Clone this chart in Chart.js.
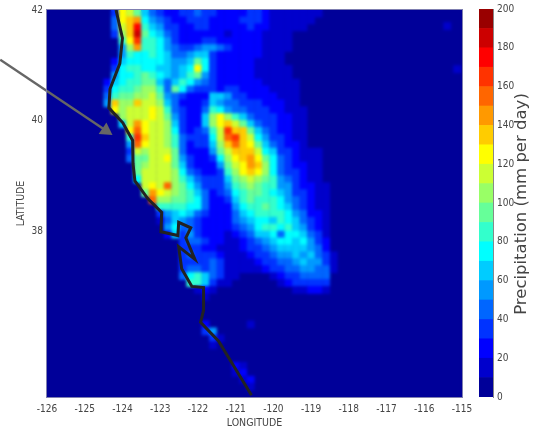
<!DOCTYPE html>
<html><head><meta charset="utf-8">
<style>html,body{margin:0;padding:0;background:#fff}#wrap{position:relative;width:535px;height:426px}canvas{position:absolute;top:0}#map{left:0}#bar{left:470px}</style>
<script src="https://cdn.jsdelivr.net/npm/chart.js@4"></script></head><body>
<div id="wrap"><canvas id="map" width="535" height="426"></canvas><canvas id="bar" width="65" height="426"></canvas></div>
<script>
const latNorth=41.9375, latStep=0.125, lonWest=-124.6, lonStep=0.2;
// precipitation in tens of mm per day, one list per latitude row (north to south), west to east
const precipTens=[
[0,0,3,12,11,9,6,4,3,2,2,3,3,4,3,3,2,2,2,2,3,3,2,1,1,1,1,1,1,1],
[0,0,4,12,13,14,7,5,4,3,2,2,3,3,3,2,2,2,2,3,3,3,2,1,1,1,1,1,1],
[0,0,4,11,13,17,8,6,5,3,3,2,2,3,3,2,2,2,2,2,3,2,2,1,1,1,1,1],
[0,0,3,10,13,18,9,7,6,4,3,2,2,2,2,2,2,1,2,2,2,2,1,1,1,1],
[0,0,0,8,12,16,8,8,7,5,3,2,2,2,3,3,2,2,2,2,2,2,1,1,1,1],
[0,0,0,5,10,14,8,8,7,5,4,3,3,4,5,5,4,3,2,2,2,2,1,1,1,1],
[0,0,0,5,8,7,7,8,7,6,4,4,5,6,6,3,2,2,2,2,2,2,1,1,1],
[0,0,2,6,7,7,7,7,7,6,5,5,6,9,7,3,2,2,2,2,2,1,1,1,1],
[0,0,3,7,8,8,7,7,6,6,5,6,7,12,7,3,2,2,2,2,2,1,1,1,1,1],
[0,0,5,7,7,8,9,8,7,6,5,6,8,9,5,3,2,2,2,2,2,1,1,1,1,1],
[0,2,6,7,8,8,9,9,6,4,6,8,7,5,4,3,2,2,2,2,2,2,1,1,1,1,1],
[0,3,7,8,8,9,10,10,8,4,9,7,4,3,3,3,2,3,3,2,2,2,2,1,1,1,1],
[0,4,8,9,9,10,10,11,9,5,4,3,2,2,2,6,6,5,3,3,2,2,2,2,1,1,1],
[0,5,13,10,10,13,11,11,10,6,4,2,2,2,3,6,5,4,4,3,3,3,2,2,2,1,1],
[0,0,12,10,11,11,11,12,11,8,4,3,2,2,4,8,7,5,4,4,3,3,3,2,2,1,1,1],
[0,0,0,10,11,11,11,12,11,9,5,3,2,2,6,10,12,10,8,6,4,3,3,3,2,2,1,1],
[0,0,0,6,11,14,12,11,11,10,6,3,2,2,6,10,12,13,11,9,6,4,3,3,2,2,1,1],
[0,0,0,0,12,15,12,11,11,10,7,3,2,3,4,8,11,16,13,13,9,6,4,3,2,2,1,1],
[0,0,0,0,8,16,13,11,11,10,8,4,3,3,3,7,11,15,16,13,11,7,5,3,3,2,1,1],
[0,0,0,0,5,15,12,11,11,10,8,4,2,3,3,6,10,13,15,13,12,9,6,4,3,2,2,1],
[0,0,0,0,3,11,10,11,11,11,9,4,2,2,2,5,9,11,13,13,13,11,7,6,3,3,2,1,1,1],
[0,0,0,0,4,9,9,11,11,12,9,5,3,2,2,3,7,10,12,13,14,12,9,7,4,3,2,1,1,1],
[0,0,0,0,0,9,10,11,11,11,9,6,3,2,2,2,5,9,11,12,14,13,10,7,4,3,2,2,1,1],
[0,0,0,0,0,9,11,11,11,11,10,7,4,3,2,2,3,8,10,12,13,12,10,7,4,3,3,2,1,1],
[0,0,0,0,0,7,11,11,11,11,10,8,6,4,3,3,3,6,9,10,11,10,9,8,5,4,3,2,1,1],
[0,0,0,0,0,0,11,12,11,15,10,9,7,5,3,3,3,5,8,9,10,9,8,8,5,5,3,2,2,1,1],
[0,0,0,0,0,0,9,14,12,11,10,9,8,6,4,2,3,4,7,8,9,9,8,7,6,5,3,3,2,1,1],
[0,0,0,0,0,0,0,15,10,10,9,9,8,7,4,2,2,3,6,8,9,8,8,8,7,5,4,3,2,1,1],
[0,0,0,0,0,0,0,0,8,8,8,8,7,7,4,2,2,2,5,7,8,8,9,8,7,6,4,3,2,1,1],
[0,0,0,0,0,0,0,0,3,5,6,7,6,4,3,2,2,2,4,6,7,8,8,8,8,7,5,4,2,2,1],
[0,0,0,0,0,0,0,0,1,4,6,5,4,3,2,2,2,2,4,5,6,7,7,6,8,7,6,4,3,2,1],
[0,0,0,0,0,0,0,0,0,5,7,4,4,3,2,2,2,2,3,4,5,7,8,8,7,8,6,5,3,2,1],
[0,0,0,0,0,0,0,0,0,2,6,3,5,3,2,2,2,1,2,3,4,6,6,7,4,7,7,6,4,3,1],
[0,0,0,0,0,0,0,0,0,0,0,3,4,4,3,2,2,1,1,2,3,4,5,6,7,7,6,7,5,3,2],
[0,0,0,0,0,0,0,0,0,0,0,3,3,3,2,2,1,1,1,2,3,3,4,5,6,6,6,6,5,4,2],
[0,0,0,0,0,0,0,0,0,0,0,3,4,3,3,3,2,1,1,1,2,3,3,4,5,5,6,5,6,4,3,1],
[0,0,0,0,0,0,0,0,0,0,0,3,3,3,3,4,3,1,1,1,1,2,3,3,4,4,5,6,5,5,3,1],
[0,0,0,0,0,0,0,0,0,0,0,3,4,4,3,4,3,1,1,1,1,1,2,3,3,4,4,5,5,4,4,1],
[0,0,0,0,0,0,0,0,0,0,0,4,7,8,6,4,3,1,1,0,0,0,0,1,2,3,3,4,4,4,4],
[0,0,0,0,0,0,0,0,0,0,0,0,8,8,6,3,1,1,0,0,0,0,0,0,1,2,3,3,3,3,3],
[0,0,0,0,0,0,0,0,0,0,0,0,0,1,2,1,0,0,0,0,0,0,0,0,0,0,1,1,2,2,1],
[0,0,0,0,0,0,0,0,0,0,0,0,0,0,1],
[],[],[],
[0,0,0,0,0,0,0,0,0,0,0,0,0,0,2,0,0,0,0,0,1],
[0,0,0,0,0,0,0,0,0,0,0,0,0,0,3,5],
[0,0,0,0,0,0,0,0,0,0,0,0,0,0,0,3,1],
[0,0,0,0,0,0,0,0,0,0,0,0,0,0,0,1],
[],[],
[0,0,0,0,0,0,0,0,0,0,0,0,0,0,0,0,0,0,2,1],
[0,0,0,0,0,0,0,0,0,0,0,0,0,0,0,0,0,0,1,2],
[0,0,0,0,0,0,0,0,0,0,0,0,0,0,0,0,0,0,0,1,2],
[0,0,0,0,0,0,0,0,0,0,0,0,0,0,0,0,0,0,0,0,1],
[]
];
const patchLon=[-115.39,-115.13], patchLat=[41.71,40.93], patchTens=[1,1];
const coastLon=[-124.17,-124.0,-124.07,-124.33,-124.36,-123.99,-123.73,-123.72,-123.67,-123.33,-122.96,-122.98,-122.53,-122.51,-122.19,-122.32,-122.08,-122.51,-122.43,-122.16,-121.85,-121.85,-121.93,-121.45,-120.58];
const coastLat=[42,41.49,41.03,40.57,40.23,39.96,39.64,39.22,38.91,38.59,38.34,37.99,37.92,38.16,38.06,37.88,37.49,37.72,37.32,37.0,36.98,36.57,36.35,36.01,35.03];
const arrowLon=[-127.24,-124.44], arrowLat=[41.10,39.82];
const lonTicks=[-126,-125,-124,-123,-122,-121,-120,-119,-118,-117,-116,-115];
const latTicks=[42,40,38];
const barEdges=[0,10,20,30,40,50,60,70,80,90,100,110,120,130,140,150,160,170,180,190,200];
const barColors=['#000099','#0000cc','#0000ff','#0033ff','#0066ff','#0099ff','#00ccff','#00ffff','#33ffcc','#66ff99','#99ff66','#ccff33','#ffff00','#ffcc00','#ff9900','#ff6600','#ff3300','#ff0000','#cc0000','#990000'];
const narrow='"DejaVu Sans Condensed","Liberation Sans",sans-serif';
const txt='#444';

const cells=[],cellCols=[];
function addCell(x,y,t){if(t>0){cells.push({x,y});cellCols.push(barColors[t]);}}
precipTens.forEach((row,r)=>row.forEach((t,c)=>addCell(lonWest+c*lonStep,latNorth-r*latStep,t)));
patchLon.forEach((x,i)=>addCell(x,patchLat[i],patchTens[i]));

const mapPlugin={id:'mapPlugin',
 beforeDraw(ch){const a=ch.chartArea,x=ch.ctx;x.save();x.fillStyle=barColors[0];x.fillRect(a.left,a.top,a.width,a.height);x.restore();},
 afterDatasetDraw(ch,args){if(args.index!==2)return;
   const a=ch.chartArea,x=ch.ctx,off=document.createElement('canvas');off.width=a.width;off.height=a.height;
   off.getContext('2d').drawImage(ch.canvas,a.left,a.top,a.width,a.height,0,0,a.width,a.height);
   x.save();x.beginPath();x.rect(a.left,a.top,a.width,a.height);x.clip();x.filter='blur(1.5px)';x.drawImage(off,a.left,a.top);x.restore();},
 afterDraw(ch){const a=ch.chartArea,x=ch.ctx;x.save();x.strokeStyle='#7f7fb0';x.lineWidth=1;x.strokeRect(a.left-.5,a.top-.5,a.width+1,a.height+1);x.restore();}
};
new Chart(document.getElementById('map'),{type:'scatter',plugins:[mapPlugin],
 data:{datasets:[
  {label:'arrow',data:arrowLon.map((x,i)=>({x,y:arrowLat[i]})),showLine:true,clip:false,borderColor:'#666',borderWidth:2.5,
   pointStyle:'triangle',pointRadius:[0,8],pointRotation:124,pointBackgroundColor:'#666',pointBorderColor:'#666',pointBorderWidth:0},
  {label:'coast',data:coastLon.map((x,i)=>({x,y:coastLat[i]})),showLine:true,borderColor:'#222',borderWidth:3,pointRadius:0,tension:0},
  {label:'precip',data:cells,pointStyle:'rect',pointRadius:5.5,pointBorderWidth:0,pointBackgroundColor:cellCols,pointBorderColor:cellCols}
 ]},
 options:{responsive:false,animation:false,events:[],
  layout:{padding:{top:9,right:73,left:0,bottom:0}},
  plugins:{legend:{display:false},tooltip:{enabled:false}},
  scales:{
   x:{type:'linear',min:-126,max:-115,grid:{display:false,drawTicks:false},border:{display:false},
      afterBuildTicks(s){s.ticks=lonTicks.map(v=>({value:v}));},afterFit(s){s.height=29;},
      ticks:{autoSkip:false,maxRotation:0,padding:6,color:txt,font:{family:narrow,size:10}},
      title:{display:true,text:'LONGITUDE',color:txt,padding:{top:1,bottom:-4},font:{family:narrow,size:10.5}}},
   y:{type:'linear',min:35,max:42,grid:{display:false,drawTicks:false},border:{display:false},
      afterBuildTicks(s){s.ticks=latTicks.map(v=>({value:v}));},afterFit(s){s.width=47;},
      ticks:{padding:4,color:txt,font:{family:narrow,size:10}},
      title:{display:true,text:'LATITUDE',color:txt,padding:{top:15,bottom:0},font:{family:narrow,size:10.5}}}
  }}});

const barTitle={id:'barTitle',afterDraw(ch){const x=ch.ctx,a=ch.chartArea;x.save();x.translate(52,(a.top+a.bottom)/2+1);x.rotate(-Math.PI/2);x.textAlign='center';x.textBaseline='middle';x.fillStyle=txt;x.font='16.5px "DejaVu Sans"';x.fillText('Precipitation (mm per day)',0,0);x.restore();}};
new Chart(document.getElementById('bar'),{type:'bar',plugins:[barTitle],
 data:{labels:[''],datasets:barColors.map((c,i)=>({label:barEdges[i]+'',data:[[barEdges[i],barEdges[i+1]]],backgroundColor:c,borderWidth:0,grouped:false,barPercentage:1,categoryPercentage:1}))},
 options:{responsive:false,animation:false,events:[],
  layout:{padding:{top:9,bottom:29,left:9,right:0}},
  plugins:{legend:{display:false},tooltip:{enabled:false}},
  scales:{
   x:{display:false},
   y:{position:'right',min:0,max:200,grid:{display:false,drawTicks:true,tickLength:3,color:'#666'},border:{display:true,color:'#888'},
      afterFit(s){s.width=42;},
      ticks:{stepSize:20,padding:1,color:txt,font:{family:narrow,size:10}}}
  }}});
</script></body></html>
